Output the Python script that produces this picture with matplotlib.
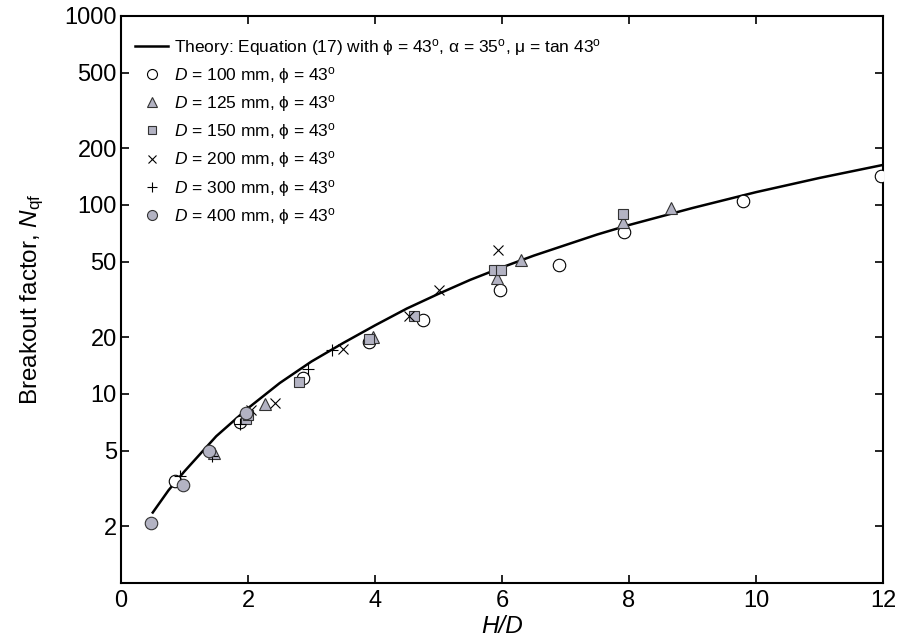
import matplotlib
matplotlib.use('Agg')
import matplotlib.pyplot as plt
import numpy as np

matplotlib.rcParams.update({'font.size': 16,
                            'font.family': ['Liberation Sans', 'DejaVu Sans'],
                            'mathtext.fontset': 'custom',
                            'mathtext.rm': 'Liberation Sans',
                            'mathtext.it': 'Liberation Sans:italic',
                            'mathtext.bf': 'Liberation Sans:bold'})

grey = '#b3b3c3'

# theory curve
theory_x = [0.5, 0.75, 1.0, 1.5, 2.0, 2.5, 3.0, 3.5, 4.0, 4.5, 5.0, 5.5, 6.0, 6.5, 7.0, 7.5,
            8.0, 9.0, 10.0, 11.0, 12.0]
theory_y = [2.36, 3.10, 3.90, 5.98, 8.41, 11.43, 14.86, 18.62, 23.07, 28.31, 33.88, 40.18,
            46.77, 53.95, 61.38, 69.8, 78.34, 96.38, 116.9, 139.0, 162.9]

# measured points
d100_x = [0.85, 1.88, 2.87, 3.90, 4.75, 5.97, 6.90, 7.92, 9.79, 11.97]
d100_y = [3.47, 7.1, 12.2, 18.8, 24.6, 35.5, 48.2, 72.3, 105.0, 143.0]
d125_x = [1.46, 2.26, 3.97, 5.92, 6.30, 7.90, 8.66]
d125_y = [4.9, 8.85, 20.0, 40.9, 51.2, 81.6, 96.0]
d150_x = [1.97, 2.00, 2.80, 3.90, 4.62, 5.87, 5.98, 7.90]
d150_y = [7.4, 7.7, 11.6, 19.5, 26.0, 45.3, 45.3, 89.6]
d200_x = [2.05, 2.43, 3.49, 4.53, 5.00, 5.94]
d200_y = [8.2, 9.0, 17.2, 25.9, 35.5, 57.8]
d300_x = [0.93, 1.43, 1.88, 2.95, 3.32]
d300_y = [3.7, 4.7, 6.9, 13.5, 17.1]
d400_x = [0.47, 0.98, 1.39, 1.97]
d400_y = [2.07, 3.29, 5.01, 7.9]

y_ticks = [2, 5, 10, 20, 50, 100, 200, 500, 1000]
x_ticks = [0, 2, 4, 6, 8, 10, 12]

phi = '\u03d5'
theory_label = ('Theory: Equation (17) with ' + phi + r' = 43$^{\mathrm{o}}$, '
                + '\u03b1' + r' = 35$^{\mathrm{o}}$, ' + '\u03bc' + r' = tan 43$^{\mathrm{o}}$')


def d_label(d):
    return r'$\mathit{D}$' + ' = {} mm, '.format(d) + phi + r' = 43$^{\mathrm{o}}$'


fig = plt.figure(figsize=(8.99, 6.44), dpi=100)
ax = fig.add_axes([0.1346, 0.0947, 0.8476, 0.8805])

ax.plot(theory_x, theory_y, color='black', lw=1.8, label=theory_label, zorder=2)
ax.plot(d100_x, d100_y, ls='none', marker='o', ms=9, mfc='white', mec='black', mew=0.8,
        label=d_label(100), zorder=3)
ax.plot(d125_x, d125_y, ls='none', marker='^', ms=9, mfc=grey, mec='#333333', mew=0.8,
        label=d_label(125), zorder=3)
ax.plot(d150_x, d150_y, ls='none', marker='s', ms=7, mfc=grey, mec='#333333', mew=0.8,
        label=d_label(150), zorder=3)
ax.plot(d200_x, d200_y, ls='none', marker='x', ms=7, mec='black', mew=0.8,
        label=d_label(200), zorder=3)
ax.plot(d300_x, d300_y, ls='none', marker='+', ms=9, mec='black', mew=0.8,
        label=d_label(300), zorder=3)
ax.plot(d400_x, d400_y, ls='none', marker='o', ms=9, mfc=grey, mec='#333333', mew=0.8,
        label=d_label(400), zorder=3)

ax.set_yscale('log')
ax.set_xlim(0, 12)
ax.set_ylim(1, 1000)
ax.set_yticks(y_ticks, [str(t) for t in y_ticks])
ax.yaxis.set_minor_locator(matplotlib.ticker.NullLocator())
ax.set_xticks(x_ticks, [str(t) for t in x_ticks])
ax.tick_params(which='both', direction='in', length=6, width=1.2,
               top=True, right=True, labelsize=17)
ax.tick_params(axis='x', pad=5)
ax.tick_params(axis='y', pad=3)
for sp in ax.spines.values():
    sp.set_linewidth(1.5)

ax.set_xlabel('H/D', fontstyle='italic', fontsize=17.5, labelpad=2)
ax.set_ylabel(r'Breakout factor, $\mathit{N}_{\mathrm{qf}}$', fontsize=17.5, labelpad=13)

ax.legend(loc='upper left', bbox_to_anchor=(0.0052, 0.982), frameon=False, fontsize=12.5,
          handlelength=1.9, handletextpad=0.3, labelspacing=0.414, markerscale=0.8,
          borderaxespad=0.3, borderpad=0.3)

plt.savefig('out.png', dpi=100)
